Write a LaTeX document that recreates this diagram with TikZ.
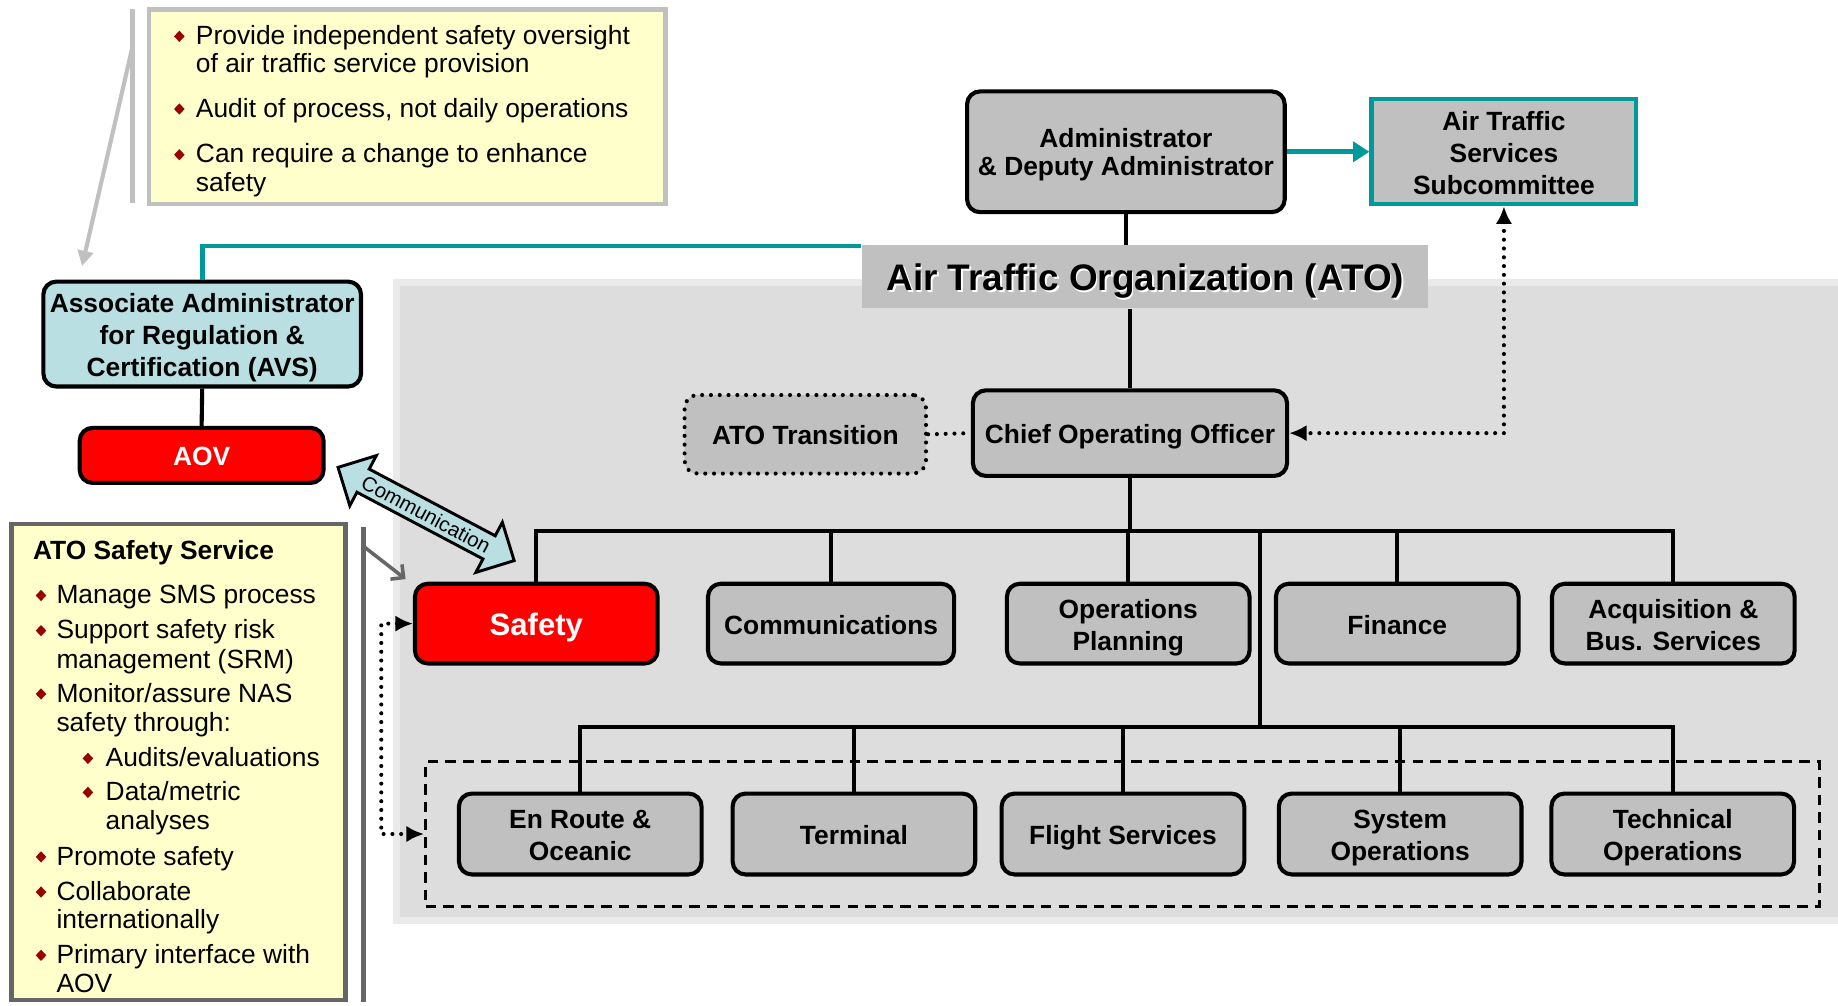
\documentclass[tikz,border=0pt]{standalone}
\usepackage{fontspec}
\setmainfont{Liberation Sans}
\usetikzlibrary{arrows.meta,shapes.arrows}
\definecolor{boxgray}{HTML}{C0C0C0}
\definecolor{bggray}{HTML}{DDDDDD}
\definecolor{bgedge}{HTML}{EAEAEA}
\definecolor{noteyellow}{HTML}{FFFFCC}
\definecolor{lightblue}{HTML}{B9DFE2}
\definecolor{tealline}{HTML}{009999}
\definecolor{bulletred}{HTML}{990000}
\definecolor{callgray}{HTML}{C0C0C0}
\definecolor{darkcall}{HTML}{666666}
\newcommand{\dmd}[2]{\fill[bulletred] (#1,#2) +(-4.5,0) -- +(0,-4.8) -- +(4.5,0) -- +(0,4.8) -- cycle;}
\newcommand{\bt}[2][7pt]{\raisebox{0pt}[\dimexpr\height+#1\relax][\depth]{\begin{tabular}{@{}c@{}}#2\end{tabular}}}
\begin{document}
\begin{tikzpicture}[x=1pt,y=-1pt,
  orgbox/.style={draw=black, line width=3.5pt, rounded corners=11pt, fill=boxgray, inner sep=0pt, font=\bfseries\fontsize{22.5}{27.5}\selectfont},
  midbox/.style={orgbox, minimum width=207pt, minimum height=68pt},
  lowbox/.style={orgbox, minimum width=207pt, minimum height=69pt},
  conn/.style={line width=3.5pt},
  dotline/.style={line width=3.5pt, dash pattern=on 0pt off 7.5pt, line cap=round},
  dotboth/.style={arrows={{Latex[length=15pt,width=14pt]}-{Latex[length=15pt,width=14pt]}}},
  notetext/.style={anchor=base west, inner sep=0pt, font=\fontsize{22.5}{24}\selectfont},
  notebold/.style={notetext, font=\bfseries\fontsize{22.5}{24}\selectfont}
]
\fill[white] (0,0) rectangle (1568,858);
\useasboundingbox (0,0) rectangle (1568,858);

% ATO background region
\path[fill=bggray, draw=bgedge, line width=6pt] (338,241) rectangle (1576,785);

% title band
\node[fill=boxgray, minimum width=483pt, minimum height=54pt, inner sep=0pt] (atotitle) at (976.5,236) {};
\node[text=white, inner sep=0pt, font=\bfseries\fontsize{31.5}{32}\selectfont] (atoshadow) at (978.5,241.5) {Air Traffic Organization (ATO)};
\node[text=black, inner sep=0pt, font=\bfseries\fontsize{31.5}{32}\selectfont] (atotext) at (977,240) {Air Traffic Organization (ATO)};

% top boxes
\node[orgbox, minimum width=271pt, minimum height=103pt, font=\bfseries\fontsize{22.5}{24}\selectfont] (admin) at (960.5,129.5) {\bt{Administrator\\\& Deputy Administrator}};
\node[orgbox, rounded corners=0pt, draw=tealline, minimum width=226pt, minimum height=89pt] (atss) at (1283,129.5) {\bt{Air Traffic\\Services\\Subcommittee}};
\node[orgbox, fill=lightblue, minimum width=271pt, minimum height=86pt] (avs) at (172.5,285) {\bt{Associate Administrator\\for Regulation \&\\Certification (AVS)}};
\node[orgbox, fill=red, text=white, minimum width=208pt, minimum height=47pt] (aov) at (172,388.5) {\bt{AOV}};
\node[orgbox, minimum width=268pt, minimum height=73pt] (coo) at (964,369.5) {\bt{Chief Operating Officer}};
\node[orgbox, dash pattern=on 0pt off 7.5pt, line cap=round, minimum width=206pt, minimum height=67pt] (trans) at (687,370.5) {\bt{ATO Transition}};

% middle row
\node[midbox, fill=red, text=white, font=\bfseries\fontsize{26.5}{27}\selectfont] (safety) at (457.5,532) {\bt[10pt]{Safety}};
\node[midbox, minimum width=210pt] (comms) at (709,532) {\bt{Communications}};
\node[midbox] (opsplan) at (962.5,532) {\bt{Operations\\Planning}};
\node[midbox] (finance) at (1192,532) {\bt{Finance}};
\node[midbox] (acq) at (1427.5,532) {\bt{Acquisition \&\\Bus. Services}};

% lower group
\node[draw=black, line width=2.5pt, dash pattern=on 9pt off 6pt, minimum width=1189pt, minimum height=123pt, inner sep=0pt] (lowgroup) at (957.5,711.5) {};
\node[lowbox] (enroute) at (495,711.5) {\bt{En Route \&\\Oceanic}};
\node[lowbox] (terminal) at (728.5,711.5) {\bt{Terminal}};
\node[lowbox] (flight) at (958,711.5) {\bt{Flight Services}};
\node[lowbox] (sysops) at (1194.5,711.5) {\bt{System\\Operations}};
\node[lowbox] (techops) at (1427,711.5) {\bt{Technical\\Operations}};

% note boxes
\node[draw=callgray, fill=noteyellow, line width=4pt, minimum width=441pt, minimum height=166pt, inner sep=0pt] (topnote) at (347.5,91) {};
\node[draw=darkcall, fill=noteyellow, line width=4pt, minimum width=285pt, minimum height=406pt, inner sep=0pt] (leftnote) at (152.5,650) {};

% top note text
\dmd{153}{31}
\node[notetext] (tn1) at (167,38) {Provide independent safety oversight};
\node[notetext] (tn2) at (167,62) {of air traffic service provision};
\dmd{153}{93}
\node[notetext] (tn3) at (167,100) {Audit of process, not daily operations};
\dmd{153}{132}
\node[notetext] (tn4) at (167,139) {Can require a change to enhance};
\node[notetext] (tn5) at (167,163) {safety};

% left note text
\node[notebold] (ln0) at (28,477) {ATO Safety Service};
\dmd{35}{508}
\node[notetext] (ln1) at (48,515) {Manage SMS process};
\dmd{35}{538}
\node[notetext] (ln2) at (48,545) {Support safety risk};
\node[notetext] (ln3) at (48,570) {management (SRM)};
\dmd{35}{592}
\node[notetext] (ln4) at (48,599) {Monitor/assure NAS};
\node[notetext] (ln5) at (48,624) {safety through:};
\dmd{75}{647}
\node[notetext] (ln6) at (90,654) {Audits/evaluations};
\dmd{75}{676}
\node[notetext] (ln7) at (90,683) {Data/metric};
\node[notetext] (ln8) at (90,708) {analyses};
\dmd{35}{731}
\node[notetext] (ln9) at (48,738) {Promote safety};
\dmd{35}{761}
\node[notetext] (ln10) at (48,768) {Collaborate};
\node[notetext] (ln11) at (48,792) {internationally};
\dmd{35}{815}
\node[notetext] (ln12) at (48,822) {Primary interface with};
\node[notetext] (ln13) at (48,847) {AOV};

% callout bars and pointers
\coordinate (bar1top) at (113,8);
\coordinate (bar1bot) at (113,173);
\coordinate (p1s) at (113,40);
\coordinate (p1e) at (70,227);
\draw[callgray, line width=4pt] (bar1top) -- (bar1bot);
\draw[callgray, line width=3.5pt, -{Triangle[length=13pt,width=13pt]}] (p1s) -- (p1e);
\coordinate (bar2top) at (310,450);
\coordinate (bar2bot) at (310,855);
\coordinate (p2s) at (310,466);
\coordinate (p2e) at (346,494);
\draw[darkcall, line width=4pt] (bar2top) -- (bar2bot);
\draw[darkcall, line width=3pt, -{Straight Barb[length=8pt,width=16pt]}] (p2s) -- (p2e);

% communication double arrow
\node[double arrow, draw=black, fill=lightblue, line width=2.5pt, minimum height=170pt, double arrow head extend=13pt, inner xsep=0pt, inner ysep=3.5pt, rotate=-27.9, font=\fontsize{17.5}{17.5}\selectfont] (comm) at (363.5,438.5) {Communication};

% connectors
\draw[tealline, line width=4pt] (atotitle.north west) ++(0,1) -| (avs.north);
\draw[tealline, line width=4pt, -{Triangle[length=14pt,width=17pt]}] (admin.east) -- (atss.west);
\draw[conn] (admin.south) -- (admin.south |- atotitle.north);
\draw[conn] (atotitle.south -| coo.north) -- (coo.north);
\draw[conn] (avs.south) -- (aov.north);
\draw[dotline] (trans.east) -- (coo.west);
\draw[dotline, dotboth] (atss.south) |- (coo.east);

\coordinate (bus1) at (964,453);
\coordinate (busjoin) at (1075,453);
\coordinate (bus2) at (1075,620);
\draw[conn] (coo.south) -- (coo.south |- bus1);
\draw[conn] (safety.north) -- (safety.north |- bus1) -- (acq.north |- bus1) -- (acq.north);
\draw[conn] (comms.north |- bus1) -- (comms.north);
\draw[conn] (opsplan.north |- bus1) -- (opsplan.north);
\draw[conn] (finance.north |- bus1) -- (finance.north);
\draw[conn] (busjoin) -- (bus2);
\draw[conn] (enroute.north) -- (enroute.north |- bus2) -- (techops.north |- bus2) -- (techops.north);
\draw[conn] (terminal.north |- bus2) -- (terminal.north);
\draw[conn] (flight.north |- bus2) -- (flight.north);
\draw[conn] (sysops.north |- bus2) -- (sysops.north);

\draw[dotline, dotboth] (safety.west) -- ++(-27,0) |- (lowgroup.west);
\end{tikzpicture}
\end{document}
